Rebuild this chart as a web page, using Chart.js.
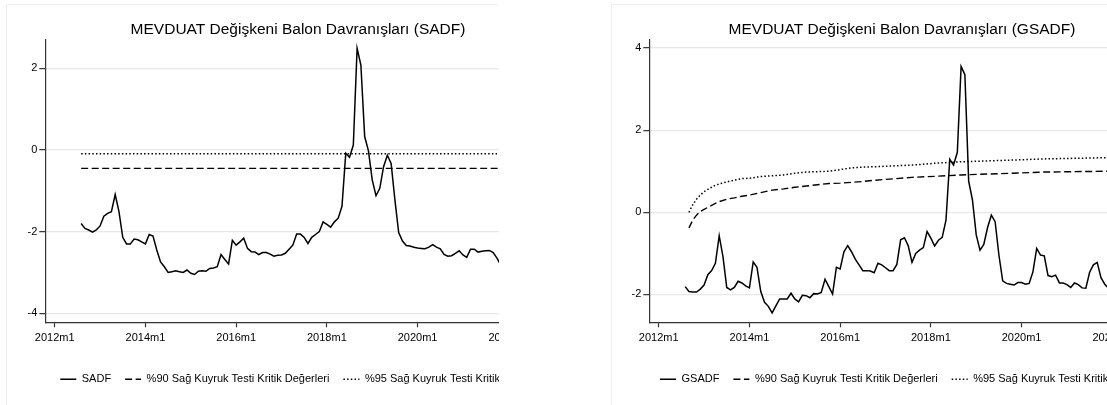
<!DOCTYPE html>
<html>
<head>
<meta charset="utf-8">
<script src="https://cdn.jsdelivr.net/npm/chart.js@4.4.1/dist/chart.umd.min.js"></script>
<style>
  body { margin: 0; background: #fff; width: 1107px; height: 405px; overflow: hidden; position: relative; }
  .panel { position: absolute; top: 0; height: 405px; overflow: hidden; }
  .frame { position: absolute; top: 4px; width: 800px; height: 500px; border: 1px solid #efefef; box-sizing: border-box; }
  canvas { position: absolute; left: 0; top: 0; }
</style>
</head>
<body>
<div class="panel" style="left:0;width:499px">
  <div class="frame" style="left:6px"></div>
  <canvas id="sadfChart" width="596" height="405"></canvas>
</div>
<div class="panel" style="left:604px;width:503px">
  <div class="frame" style="left:7px"></div>
  <canvas id="gsadfChart" width="596" height="405"></canvas>
</div>
<script>
const FONT = "'Liberation Sans', Arial, sans-serif";

// monthly series, first value is 2012m8
const START_MONTH = '2012m8';
const sadf = [
  -1.80, -1.92, -1.96, -2.01, -1.96, -1.86, -1.62, -1.55, -1.51, -1.09,
  -1.51, -2.14, -2.30, -2.30, -2.18, -2.20, -2.25, -2.30, -2.07, -2.11,
  -2.45, -2.74, -2.86, -3.00, -2.98, -2.96, -2.98, -3.00, -2.94, -3.02,
  -3.05, -2.97, -2.96, -2.97, -2.90, -2.89, -2.86, -2.56, -2.68, -2.79,
  -2.21, -2.33, -2.25, -2.16, -2.41, -2.49, -2.50, -2.56, -2.51, -2.51,
  -2.55, -2.60, -2.58, -2.57, -2.53, -2.43, -2.33, -2.06, -2.06, -2.14,
  -2.29, -2.14, -2.07, -2.00, -1.76, -1.82, -1.89, -1.76, -1.67, -1.38,
  -0.08, -0.18, 0.12, 2.49, 2.08, 0.33, -0.02, -0.73, -1.12, -0.94,
  -0.41, -0.13, -0.33, -1.22, -2.02, -2.23, -2.34, -2.35, -2.38, -2.40,
  -2.41, -2.42, -2.38, -2.32, -2.38, -2.42, -2.56, -2.60, -2.59, -2.53,
  -2.47, -2.57, -2.63, -2.43, -2.43, -2.50, -2.48, -2.47, -2.46, -2.51,
  -2.65, -2.82
];
const gsadf = [
  -1.81, -1.93, -1.94, -1.94, -1.87, -1.77, -1.52, -1.42, -1.24, -0.57,
  -1.08, -1.83, -1.89, -1.83, -1.68, -1.72, -1.79, -1.84, -1.21, -1.34,
  -1.93, -2.19, -2.29, -2.45, -2.28, -2.11, -2.11, -2.11, -1.97, -2.11,
  -2.18, -2.02, -2.03, -2.08, -1.98, -1.99, -1.95, -1.63, -1.81, -1.99,
  -1.34, -1.38, -0.96, -0.81, -0.96, -1.14, -1.28, -1.42, -1.42, -1.43,
  -1.47, -1.24, -1.28, -1.35, -1.42, -1.42, -1.27, -0.67, -0.62, -0.81,
  -1.22, -1.00, -0.92, -0.86, -0.47, -0.63, -0.82, -0.68, -0.61, -0.19,
  1.29, 1.15, 1.46, 3.55, 3.35, 0.76, 0.30, -0.55, -0.92, -0.78,
  -0.37, -0.07, -0.23, -1.04, -1.67, -1.73, -1.75, -1.77, -1.71, -1.71,
  -1.75, -1.73, -1.45, -0.88, -1.04, -1.06, -1.54, -1.57, -1.53, -1.72,
  -1.72, -1.76, -1.83, -1.72, -1.76, -1.84, -1.85, -1.46, -1.28, -1.22,
  -1.59, -1.75, -1.85
];

// critical values
const sadfCv90 = -0.45;
const sadfCv95 = -0.09;
const gsadfCvMonths = ['2012m9', '2012m10', '2012m11', '2012m12', '2013m1', '2013m2', '2013m3', '2013m4',
  '2013m5', '2013m7', '2013m9', '2013m11', '2014m1', '2014m4', '2014m7', '2014m10', '2015m1', '2015m4',
  '2015m7', '2015m10', '2016m1', '2016m4', '2016m7', '2016m10', '2017m1', '2017m8', '2018m3', '2018m9',
  '2019m10', '2020m7', '2021m12'];
const gsadfCv90 = [-0.38, -0.19, -0.07, 0.02, 0.07, 0.12, 0.17, 0.22, 0.26, 0.32, 0.35, 0.39, 0.42, 0.48,
  0.54, 0.57, 0.61, 0.64, 0.67, 0.70, 0.71, 0.73, 0.75, 0.78, 0.80, 0.85, 0.88, 0.91, 0.95, 0.98, 1.00];
const gsadfCv95 = [0.00, 0.18, 0.32, 0.42, 0.50, 0.56, 0.61, 0.66, 0.69, 0.74, 0.78, 0.82, 0.83, 0.87,
  0.89, 0.91, 0.95, 0.98, 0.99, 1.00, 1.04, 1.08, 1.10, 1.11, 1.12, 1.15, 1.20, 1.23, 1.27, 1.30, 1.33];

const xTickLabels = ['2012m1', '2014m1', '2016m1', '2018m1', '2020m1', '2022m1'];
const sadfYTicks = [-4, -2, 0, 2];
const gsadfYTicks = [-2, 0, 2, 4];

const LBL_90 = '%90 Sağ Kuyruk Testi Kritik Değerleri';
const LBL_95 = '%95 Sağ Kuyruk Testi Kritik Değerleri';

function monthIndex(s) {
    const parts = s.split('m').map(Number);
    return (parts[0] - 2012) * 12 + (parts[1] - 1);
}
function monthLabel(i) {
    return (2012 + Math.floor(i / 12)) + 'm' + (i % 12 + 1);
}
function seriesMonths(values) {
    const first = monthIndex(START_MONTH);
    return values.map((_, i) => monthLabel(first + i));
}
function toPoints(months, values) {
    return months.map((m, i) => ({x: monthIndex(m), y: values[i]}));
}

const sadfMonths = seriesMonths(sadf);
const gsadfMonths = seriesMonths(gsadf);

function lineSet(label, data, width, dash) {
    return {
        label: label,
        data: data,
        borderColor: '#000',
        backgroundColor: '#000',
        borderWidth: width,
        borderDash: dash,
        pointStyle: 'line',
        pointRadius: 0,
        tension: 0
    };
}

// the legend row sits a little right of the title in the original
const legendShift = {
    id: 'legendShift',
    afterLayout: function(chart) {
        chart.legend.left += 6;
        chart.legend.right += 6;
    }
};

function makeChart(id, datasets, title, yMin, yMax, yTicks) {
    return new Chart(document.getElementById(id), {
        type: 'line',
        data: {datasets: datasets},
        plugins: [legendShift],
        options: {
            responsive: false,
            animation: false,
            devicePixelRatio: 1,
            layout: {padding: {top: 0, left: 0, right: 0, bottom: 10.2}},
            plugins: {
                title: {
                    display: true,
                    text: title,
                    color: '#000',
                    font: {family: FONT, size: 15.5, weight: 'normal'},
                    padding: {top: 20, bottom: 0.7}
                },
                legend: {
                    position: 'bottom',
                    labels: {
                        usePointStyle: true,
                        pointStyleWidth: 16,
                        padding: 14,
                        color: '#000',
                        font: {family: FONT, size: 11},
                        generateLabels: function(chart) {
                            return Chart.defaults.plugins.legend.labels.generateLabels(chart).map(function(item) {
                                const ds = chart.data.datasets[item.datasetIndex];
                                item.lineDash = ds.borderDash || [];
                                item.lineWidth = ds.borderWidth;
                                item.strokeStyle = '#000';
                                item.pointStyle = 'line';
                                return item;
                            });
                        }
                    }
                },
                tooltip: {enabled: false}
            },
            scales: {
                x: {
                    type: 'linear',
                    min: -2.49,
                    max: 143.2,
                    afterFit: function(s) { s.height = 37.5; },
                    afterBuildTicks: function(s) { s.ticks = xTickLabels.map(l => ({value: monthIndex(l)})); },
                    ticks: {
                        callback: v => monthLabel(v),
                        color: '#000',
                        font: {family: FONT, size: 11},
                        padding: 3.8,
                        maxRotation: 0,
                        autoSkip: false
                    },
                    grid: {drawOnChartArea: false, drawTicks: true, tickLength: 5, tickColor: '#333', tickWidth: 1.2},
                    border: {color: '#333', width: 1.2}
                },
                y: {
                    min: yMin,
                    max: yMax,
                    afterFit: function(s) { s.width = 45.3; },
                    afterBuildTicks: function(s) { s.ticks = yTicks.map(v => ({value: v})); },
                    ticks: {
                        callback: v => String(v),
                        color: '#000',
                        font: {family: FONT, size: 11},
                        padding: 2
                    },
                    grid: {color: '#e8e8e8', lineWidth: 1.3, tickLength: 6, tickColor: '#333', tickWidth: 1.2},
                    border: {color: '#333', width: 1.2}
                }
            }
        }
    });
}

const sadfEdges = [sadfMonths[0], sadfMonths[sadfMonths.length - 1]];
makeChart('sadfChart', [
    lineSet('SADF', toPoints(sadfMonths, sadf), 1.5, []),
    lineSet(LBL_90, toPoints(sadfEdges, [sadfCv90, sadfCv90]), 1.4, [7, 3.5]),
    lineSet(LBL_95, toPoints(sadfEdges, [sadfCv95, sadfCv95]), 1.5, [1.5, 2.2])
], 'MEVDUAT Değişkeni Balon Davranışları (SADF)', -4.22, 2.711, sadfYTicks);

makeChart('gsadfChart', [
    lineSet('GSADF', toPoints(gsadfMonths, gsadf), 1.5, []),
    lineSet(LBL_90, toPoints(gsadfCvMonths, gsadfCv90), 1.4, [7, 3.5]),
    lineSet(LBL_95, toPoints(gsadfCvMonths, gsadfCv95), 1.5, [1.5, 2.2])
], 'MEVDUAT Değişkeni Balon Davranışları (GSADF)', -2.678, 4.212, gsadfYTicks);
</script>
</body>
</html>
